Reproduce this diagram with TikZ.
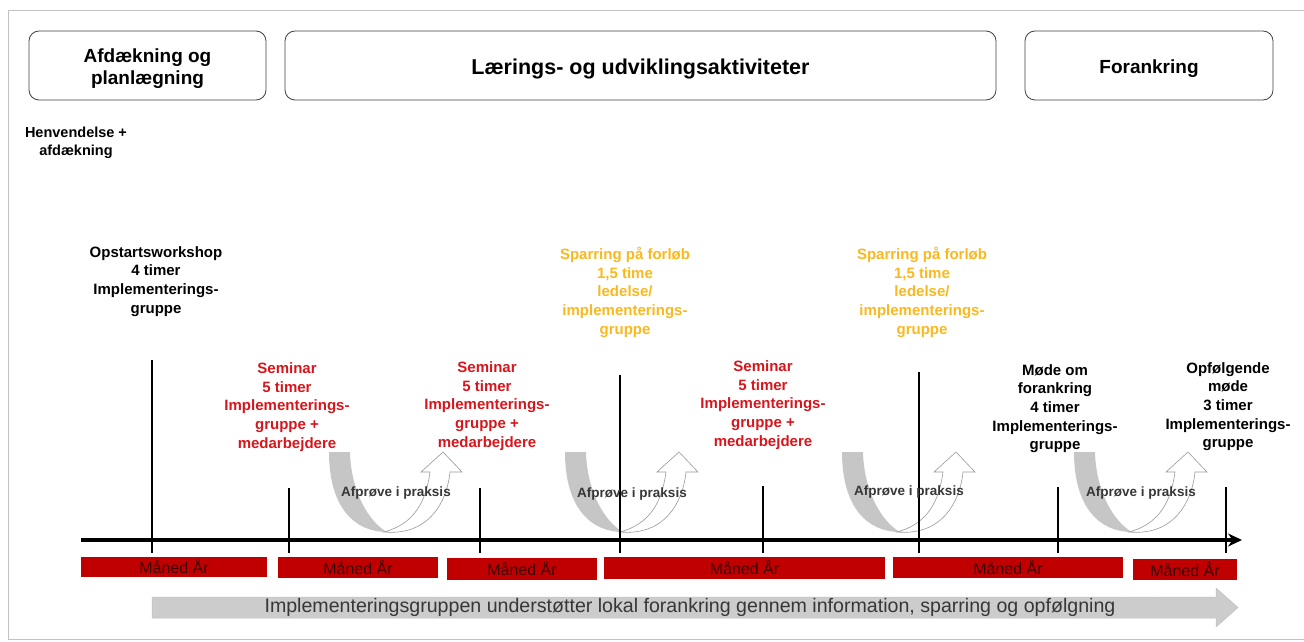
\documentclass[tikz,border=0pt]{standalone}
\usepackage{fontspec}
\setmainfont{Liberation Sans}
\usetikzlibrary{arrows.meta}
\definecolor{lblred}{RGB}{214,22,28}
\definecolor{lblyel}{RGB}{250,184,30}
\definecolor{barred}{RGB}{192,0,0}
\definecolor{bartxt}{RGB}{60,0,0}
\definecolor{uband}{RGB}{198,198,198}
\definecolor{frame}{RGB}{195,195,195}
\definecolor{bigarrow}{RGB}{204,204,204}
\definecolor{txtgray}{RGB}{55,55,55}
\tikzset{
  phasebox/.style={draw=black!75, line width=0.8pt, rounded corners=10pt, minimum height=69pt, inner sep=0pt},
  phasetext/.style={align=center, inner sep=0pt, font=\fontsize{19}{22}\selectfont\bfseries},
  lbl/.style={anchor=north, inner sep=0pt, align=center, font=\fontsize{15}{18.7}\selectfont\bfseries},
  tick/.style={line width=1.8pt, black},
  bar/.style={fill=barred, inner sep=0pt, text=bartxt, font=\fontsize{16}{18}\selectfont},
  practice/.style={inner sep=0pt, text=txtgray, font=\fontsize{13.5}{16}\selectfont\bfseries},
  uturn/.pic={
    \fill[uband] (0,0) .. controls (0,55) and (25,80) .. (58,80)
      .. controls (40,70) and (22,40) .. (21,0) -- cycle;
    \filldraw[fill=white, draw=black!40, line width=0.6pt]
      (55,80) .. controls (100,84) and (118,50) .. (121,20) -- (133,20) -- (114,0)
      -- (92,20) -- (101,20) .. controls (97,50) and (85,72) .. (55,80) -- cycle;
  }
}
\begin{document}
\begin{tikzpicture}[x=1pt,y=-1pt]
\useasboundingbox (0,0) rectangle (1304,642);
% frame
\draw[frame, line width=1pt] (1304,11) -- (8,11) -- (8,639) -- (1304,639);

% phase boxes
\node[phasebox, minimum width=237pt] (p1box) at (147.5,65.5) {};
\node[phasebox, minimum width=711pt] (p2box) at (640.5,65.5) {};
\node[phasebox, minimum width=248pt] (p3box) at (1149,65.5) {};
\node[phasetext] (p1) at ([yshift=-3pt]p1box.center) {Afdækning og\\planlægning};
\node[phasetext, font=\fontsize{21.5}{24}\selectfont\bfseries] (p2) at ([yshift=-3pt]p2box.center) {Lærings- og udviklingsaktiviteter};
\node[phasetext] (p3) at ([yshift=-3pt]p3box.center) {Forankring};

\node[lbl, font=\fontsize{14.5}{18}\selectfont\bfseries] (henv) at (76,127) {Henvendelse +\\afdækning};

% U-turn arrows
\pic at (329,452) {uturn};
\pic at (565,452) {uturn};
\pic at (842,452) {uturn};
\pic at (1074,452) {uturn};

% bottom big arrow
\draw[fill=bigarrow, draw=black!25, line width=0.5pt]
  (152,597) -- (1216,597) -- (1216,588) -- (1238,607.5) -- (1216,627) -- (1216,618) -- (152,618) -- cycle;
\node[inner sep=0pt, text=txtgray, font=\fontsize{19.6}{22}\selectfont] (support) at (690,607)
  {Implementeringsgruppen understøtter lokal forankring gennem information, sparring og opfølgning};

% axis
\coordinate (axL) at (81,540);
\coordinate (axR) at (1242,540);
\draw[line width=3.4pt, -{Stealth[length=14pt,width=13pt]}] (axL) -- (axR);

% ticks
\foreach \n/\x/\t in {t1/152/360, t2/289/488, t3/480/488, t4/620/375, t5/763/486, t6/919/372, t7/1058/487, t8/1226/487}{
  \coordinate (\n top) at (\x,\t);
  \coordinate (\n bot) at (\x,553);
  \draw[tick] (\n top) -- (\n bot);
}

% practice labels
\node[practice] (pr1) at (396,493) {Afprøve i praksis};
\node[practice] (pr2) at (632,494) {Afprøve i praksis};
\node[practice] (pr3) at (909,492) {Afprøve i praksis};
\node[practice] (pr4) at (1141,493) {Afprøve i praksis};

% activity labels
\node[lbl] (opst) at (156,246) {Opstartsworkshop\\4 timer\\Implementerings-\\gruppe};
\node[lbl, text=lblred] (sem1) at (287,362.5) {Seminar\\5 timer\\Implementerings-\\gruppe +\\medarbejdere};
\node[lbl, text=lblred] (sem2) at (487,361.5) {Seminar\\5 timer\\Implementerings-\\gruppe +\\medarbejdere};
\node[lbl, text=lblyel] (spar1) at (625,247) {Sparring på forløb\\1,5 time\\ledelse/\\implementerings-\\gruppe};
\node[lbl, text=lblred] (sem3) at (763,360.5) {Seminar\\5 timer\\Implementerings-\\gruppe +\\medarbejdere};
\node[lbl, text=lblyel] (spar2) at (922,247) {Sparring på forløb\\1,5 time\\ledelse/\\implementerings-\\gruppe};
\node[lbl] (mode) at (1055,364) {Møde om\\forankring\\4 timer\\Implementerings-\\gruppe};
\node[lbl] (opf) at (1228,362) {Opfølgende\\møde\\3 timer\\Implementerings-\\gruppe};

% month bars
\node[bar, minimum width=186pt, minimum height=20pt] (b1) at (174,567) {Måned År};
\node[bar, minimum width=160pt, minimum height=21pt] (b2) at (358,567.5) {Måned År};
\node[bar, minimum width=150pt, minimum height=22pt] (b3) at (522,569) {Måned År};
\node[bar, minimum width=281pt, minimum height=22pt] (b4) at (744.5,568) {Måned År};
\node[bar, minimum width=230pt, minimum height=21pt] (b5) at (1008,567.5) {Måned År};
\node[bar, minimum width=104pt, minimum height=21pt] (b6) at (1185,569.5) {Måned År};
\end{tikzpicture}
\end{document}
